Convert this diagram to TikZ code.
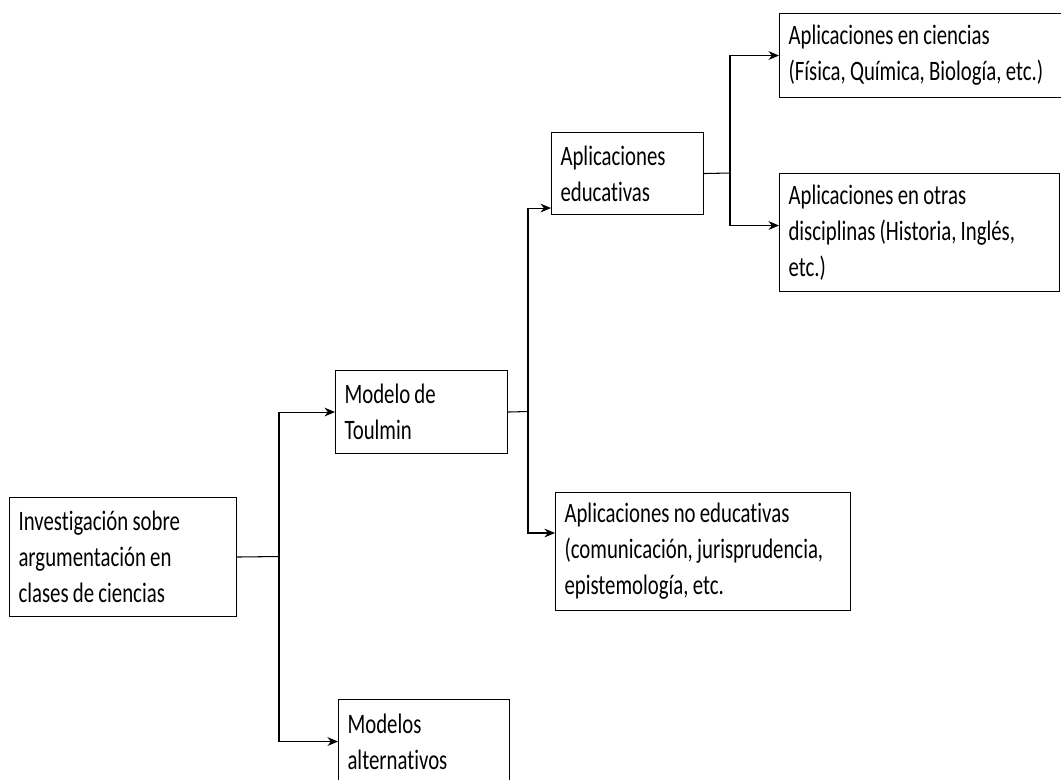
\documentclass[tikz,border=0pt]{standalone}
\usepackage{fontspec}
\setmainfont{Carlito}[FakeStretch=0.74, Ligatures=NoCommon]
\usetikzlibrary{arrows.meta}

\newcommand{\tightspace}{\spaceskip=2.4pt plus 1pt\relax}

\tikzset{
    box/.style={draw, line width=0.6pt, rectangle, anchor=north west, align=left,
        inner xsep=0.18cm, inner ysep=0pt,
        font=\fontsize{16}{20.5}\selectfont,
        execute at begin node=\tightspace},
    arr/.style={-{Stealth[length=6pt,width=5pt]}, line width=0.6pt}
}

\begin{document}
\begin{tikzpicture}[x=0.02cm, y=-0.02cm]
    \clip (0,0) rectangle (1061,779);
    \fill[white] (0,0) rectangle (1061,779);

    % boxes
    \node[box, text width=4.18cm, minimum height=2.38cm] (inv) at (9,497)
        {Investigación sobre\\argumentación en\\clases de ciencias};
    \node[box, text width=3.08cm, minimum height=1.66cm] (toul) at (335,370)
        {Modelo de\\Toulmin};
    \node[box, text width=3.06cm, minimum height=1.68cm] (alt) at (338,699)
        {Modelos\\alternativos};
    \node[box, text width=2.68cm, minimum height=1.64cm] (edu) at (551,132)
        {Aplicaciones\\educativas};
    \node[box, text width=5.54cm, minimum height=2.36cm] (noedu) at (555,492)
        {Aplicaciones no educativas\\(comunicación, jurisprudencia,\\epistemología, etc.};
    \node[box, text width=5.4cm, minimum height=1.68cm] (cien) at (779,13)
        {Aplicaciones en ciencias\\(Física, Química, Biología, etc.)};
    \node[box, text width=5.24cm, minimum height=2.36cm] (otras) at (779,173)
        {Aplicaciones en otras\\disciplinas (Historia, Inglés,\\etc.)};

    % junctions
    \coordinate (j1) at (279,556.5);
    \coordinate (j2) at (528,411.5);
    \coordinate (j3) at (730,173);

    \draw[line width=0.6pt] (inv.east) -- (j1);
    \draw[arr] (j1) |- (toul.west);
    \draw[arr] (j1) |- (alt.west);

    \draw[line width=0.6pt] (toul.east) -- (j2);
    \draw[arr] (j2) |- ([yshift=0.14cm]edu.south west);
    \draw[arr] (j2) |- ([yshift=-0.82cm]noedu.north west);

    \draw[line width=0.6pt] (edu.east) -- (j3);
    \draw[arr] (j3) |- (cien.west);
    \draw[arr] (j3) |- ([yshift=0.14cm]otras.west);
\end{tikzpicture}
\end{document}
